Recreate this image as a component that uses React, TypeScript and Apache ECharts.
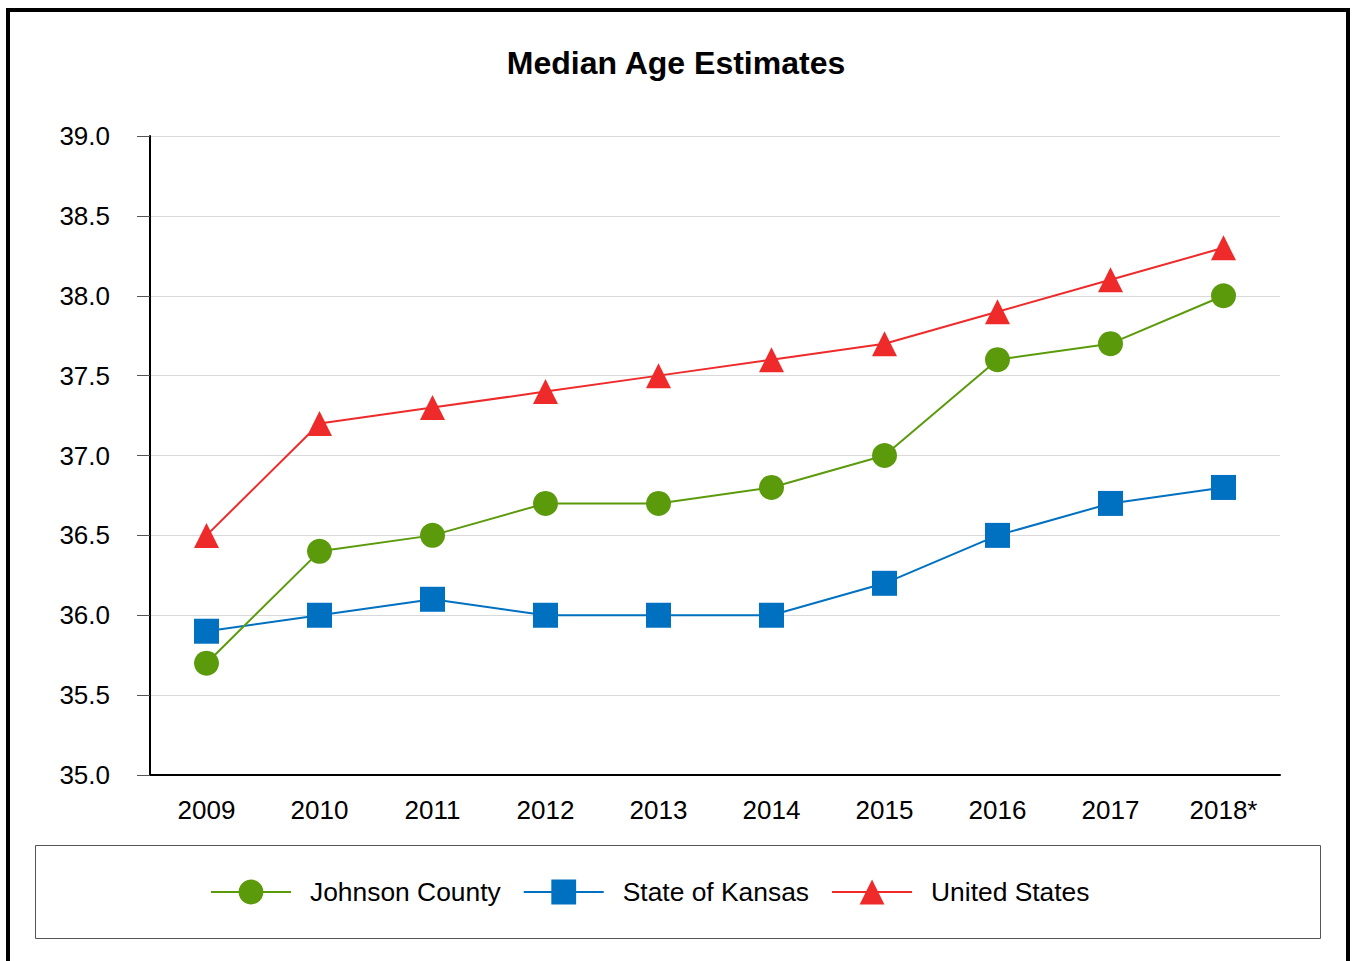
import React, { useEffect, useRef } from "react";
import * as echarts from "echarts";

const years = ["2009", "2010", "2011", "2012", "2013", "2014", "2015", "2016", "2017", "2018*"];
const johnsonCounty = [35.7, 36.4, 36.5, 36.7, 36.7, 36.8, 37.0, 37.6, 37.7, 38.0];
const stateOfKansas = [35.9, 36.0, 36.1, 36.0, 36.0, 36.0, 36.2, 36.5, 36.7, 36.8];
const unitedStates = [36.5, 37.2, 37.3, 37.4, 37.5, 37.6, 37.7, 37.9, 38.1, 38.3];

const FONT = "'Liberation Sans', Arial, sans-serif";

export default function App() {
  const ref = useRef<HTMLDivElement>(null);
  useEffect(() => {
    const chart = echarts.init(ref.current!, null, { renderer: "svg" });
    chart.setOption({
      animation: false,
      backgroundColor: "#ffffff",
      title: {
        text: "Median Age Estimates",
        left: "center",
        top: 47,
        padding: 0,
        textStyle: { fontFamily: FONT, fontSize: 32, fontWeight: "bold", color: "#000" },
      },
      graphic: [
        {
          type: "rect",
          shape: { x: 8, y: 10, width: 1340, height: 1000 },
          style: { fill: "none", stroke: "#000", lineWidth: 4 },
          silent: true,
        },
        {
          type: "rect",
          shape: { x: 35.5, y: 845.5, width: 1285, height: 93 },
          style: { fill: "none", stroke: "#555", lineWidth: 1 },
          silent: true,
        },
      ],
      legend: {
        left: 210,
        top: 879,
        padding: 0,
        itemWidth: 80,
        itemHeight: 31,
        itemGap: 22,
        textStyle: { fontFamily: FONT, fontSize: 26.4, color: "#000", padding: [0, 0, 0, 14] },
        data: ["Johnson County", "State of Kansas", "United States"],
      },
      grid: { left: 150, right: 72, top: 136, bottom: 186, containLabel: false },
      xAxis: {
        type: "category",
        data: years,
        boundaryGap: true,
        axisLine: { show: true, lineStyle: { color: "#000", width: 2 } },
        axisTick: { show: false },
        axisLabel: { fontFamily: FONT, fontSize: 26, color: "#000", margin: 22 },
        splitLine: { show: false },
      },
      yAxis: {
        type: "value",
        min: 35,
        max: 39,
        interval: 0.5,
        axisLine: { show: true, lineStyle: { color: "#000", width: 2 } },
        axisTick: { show: true, length: 13, lineStyle: { color: "#555", width: 1 } },
        axisLabel: {
          fontFamily: FONT,
          fontSize: 26,
          color: "#000",
          margin: 40,
          padding: [2, 0, 0, 0],
          formatter: (v: number) => v.toFixed(1),
        },
        splitLine: { show: true, lineStyle: { color: "#d9d9d9", width: 1 } },
      },
      series: [
        {
          name: "Johnson County",
          type: "line",
          data: johnsonCounty,
          symbol: "circle",
          symbolSize: 25,
          lineStyle: { color: "#5b9a0b", width: 2 },
          itemStyle: { color: "#5b9a0b" },
          z: 3,
        },
        {
          name: "State of Kansas",
          type: "line",
          data: stateOfKansas,
          symbol: "rect",
          symbolSize: 25,
          lineStyle: { color: "#0070c0", width: 2 },
          itemStyle: { color: "#0070c0" },
          z: 2,
        },
        {
          name: "United States",
          type: "line",
          data: unitedStates,
          symbol: "triangle",
          symbolSize: 25,
          lineStyle: { color: "#ee2a2a", width: 2 },
          itemStyle: { color: "#ee2a2a" },
          z: 4,
        },
      ],
    });
    return () => chart.dispose();
  }, []);
  return (
    <div
      ref={ref}
      style={{ position: "fixed", left: 0, top: 0, width: 1352, height: 961, background: "#fff" }}
    />
  );
}
